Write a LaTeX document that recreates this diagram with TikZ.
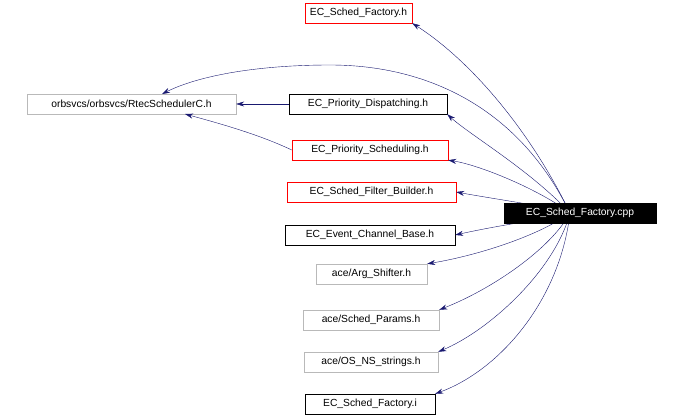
\documentclass[tikz,border=0pt]{standalone}
\usepackage{fontspec}
\setmainfont{Liberation Sans}
\usetikzlibrary{arrows.meta}
\begin{document}
\begin{tikzpicture}[x=1pt,y=-1pt,
  box/.style={draw,inner sep=0pt,minimum height=20pt,font=\fontsize{10.3}{12}\selectfont},
  redbox/.style={box,draw=red},
  graybox/.style={box,draw=gray!55},
  blkbox/.style={box,draw=black},
  edge/.style={draw={rgb,255:red,25;green,25;blue,112},-{Stealth[length=8pt,width=5pt]}}]
\useasboundingbox (0,0) rectangle (678,417);
\node[redbox,minimum width=107pt] (sfh) at (358.5,13) {EC\_Sched\_Factory.h};
\node[graybox,minimum width=209pt] (rtec) at (131.5,104) {orbsvcs/orbsvcs/RtecSchedulerC.h};
\node[blkbox,minimum width=158pt] (pd) at (368,104) {EC\_Priority\_Dispatching.h};
\node[redbox,minimum width=156pt] (ps) at (370,150) {EC\_Priority\_Scheduling.h};
\node[redbox,minimum width=169pt] (sfb) at (371.5,192) {EC\_Sched\_Filter\_Builder.h};
\node[blkbox,minimum width=170pt] (ecb) at (370,235) {EC\_Event\_Channel\_Base.h};
\node[graybox,minimum width=111pt] (arg) at (371.5,274) {ace/Arg\_Shifter.h};
\node[graybox,minimum width=136pt] (sp) at (371,320) {ace/Sched\_Params.h};
\node[graybox,minimum width=134pt] (os) at (371,362) {ace/OS\_NS\_strings.h};
\node[blkbox,minimum width=130pt] (sfi) at (370,404) {EC\_Sched\_Factory.i};
\coordinate (c) at (570,213);
\coordinate (rtop) at (162,94);
\coordinate (rbot) at (185,114);
\path[edge] (c) .. controls (530,130) and (470,60) .. (sfh.south east);
\path[edge] (c) .. controls (520,110) and (430,65) .. (330,65) .. controls (260,65) and (200,75) .. (rtop);
\path[edge] (c) .. controls (530,170) and (470,135) .. (pd.south east);
\path[edge] (c) .. controls (540,190) and (480,165) .. (ps.south east);
\path[edge] (c) .. controls (540,205) and (500,200) .. (sfb.east);
\path[edge] (c) .. controls (540,220) and (500,225) .. (ecb.east);
\path[edge] (c) .. controls (540,235) and (480,255) .. (arg.north east);
\path[edge] (c) .. controls (550,250) and (490,290) .. (sp.north east);
\path[edge] (c) .. controls (555,270) and (490,330) .. (os.north east);
\path[edge] (c) .. controls (560,300) and (500,370) .. (sfi.north east);
\path[edge] (pd) -- (rtec);
\path[edge] (ps.west) .. controls (260,135) and (225,125) .. (rbot);
\node[box,fill=black,text=white,minimum width=152pt] (cpp) at (580,213) {EC\_Sched\_Factory.cpp};
\end{tikzpicture}
\end{document}
